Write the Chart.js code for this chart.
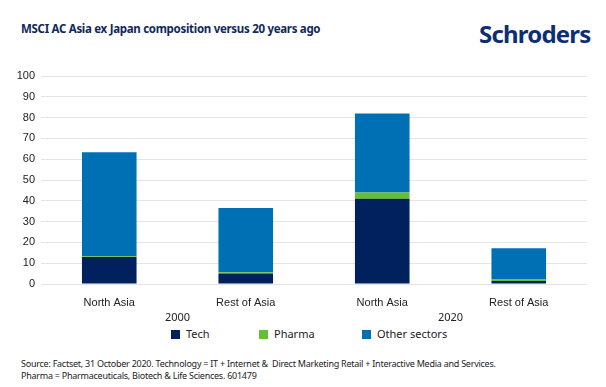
<!DOCTYPE html>
<html>
<head>
<meta charset="utf-8">
<script src="https://cdn.jsdelivr.net/npm/chart.js@4"></script>
<style>
  body { margin: 0; background: #fff; font-family: "Noto Sans", sans-serif; }
  #wrap { position: relative; width: 606px; height: 387px; overflow: hidden; }
  #title { position: absolute; left: 21px; top: 21px; font-size: 11.5px; font-weight: bold; color: #10285a; letter-spacing: -0.3px; }
  #logo { position: absolute; left: 479px; top: 17px; font-size: 24px; font-weight: bold; color: #0b2f72; letter-spacing: -0.8px; }
  #chartBox { position: absolute; left: 0; top: 55px; width: 606px; height: 269px; }
  #legend { position: absolute; top: 326px; left: 171px; font-size: 11px; color: #222; white-space: nowrap; }
  #legend span.item { position: absolute; top: 0; }
  #legend i { display: inline-block; width: 9px; height: 9px; margin-right: 6px; vertical-align: -1px; }
  #note { position: absolute; left: 21px; top: 358px; font-size: 9px; line-height: 12px; color: #222; letter-spacing: -0.25px; }
</style>
</head>
<body>
<div id="wrap">
  <div id="title">MSCI AC Asia ex Japan composition versus 20 years ago</div>
  <div id="logo">Schroders</div>
  <div id="chartBox"><canvas id="BarChart"></canvas></div>
  <div id="legend"></div>
  <div id="note">Source: Factset, 31 October 2020. Technology = IT + Internet &amp;&nbsp; Direct Marketing Retail + Interactive Media and Services.<br>Pharma = Pharmaceuticals, Biotech &amp; Life Sciences. 601479</div>
</div>
<script>
const categories = ['North Asia', 'Rest of Asia', 'North Asia', 'Rest of Asia'];
const years = ['2000', '2020'];
const tech = [13, 5, 41, 1.4];
const pharma = [0.3, 0.7, 3, 0.8];
const other = [50, 30.8, 38, 15];
const yMax = 100;
const yStep = 10;

// second row of x labels: one year under each pair of bars
const yearLabels = {
  id: 'yearLabels',
  afterDraw: function(chart) {
    const x = chart.scales.x;
    const c = chart.ctx;
    c.save();
    c.font = '11px "Noto Sans"';
    c.fillStyle = '#222';
    c.textAlign = 'center';
    c.textBaseline = 'middle';
    years.forEach(function(yr, i) {
      const mid = (x.getPixelForValue(i * 2) + x.getPixelForValue(i * 2 + 1)) / 2;
      c.fillText(yr, mid, chart.chartArea.bottom + 34);
    });
    c.restore();
  }
};

const ctx = document.getElementById('BarChart').getContext('2d');
const chart = new Chart(ctx, {
  type: 'bar',
  data: {
    labels: categories,
    datasets: [
      { label: 'Tech', data: tech, backgroundColor: '#00215e' },
      { label: 'Pharma', data: pharma, backgroundColor: '#62bf36' },
      { label: 'Other sectors', data: other, backgroundColor: '#0070b4' }
    ]
  },
  options: {
    responsive: true,
    maintainAspectRatio: false,
    animation: false,
    layout: { padding: { top: 21, right: 19, left: 0, bottom: 0 } },
    datasets: {
      bar: { categoryPercentage: 1, barPercentage: 0.4, borderWidth: 0 }
    },
    scales: {
      x: {
        stacked: true,
        grid: { display: false },
        border: { display: false },
        ticks: { color: '#222', font: { size: 11 }, padding: 4 },
        afterFit: function(scale) { scale.height = 40; }
      },
      y: {
        stacked: true,
        min: 0,
        max: yMax,
        ticks: { stepSize: yStep, autoSkip: false, color: '#222', font: { size: 11 }, padding: 6 },
        grid: { color: '#e4e4e4', drawTicks: false },
        border: { display: false },
        afterFit: function(scale) { scale.width = 41; }
      }
    },
    plugins: {
      legend: { display: false },
      tooltip: { enabled: false }
    }
  },
  plugins: [yearLabels]
});

// legend laid out like the original (wide gaps between items)
const legendX = [0, 88, 191];
const legendEl = document.getElementById('legend');
chart.data.datasets.forEach(function(ds, i) {
  legendEl.insertAdjacentHTML('beforeend',
    `<span class="item" style="left:${legendX[i]}px"><i style="background:${ds.backgroundColor}"></i>${ds.label}</span>`);
});
</script>
</body>
</html>
